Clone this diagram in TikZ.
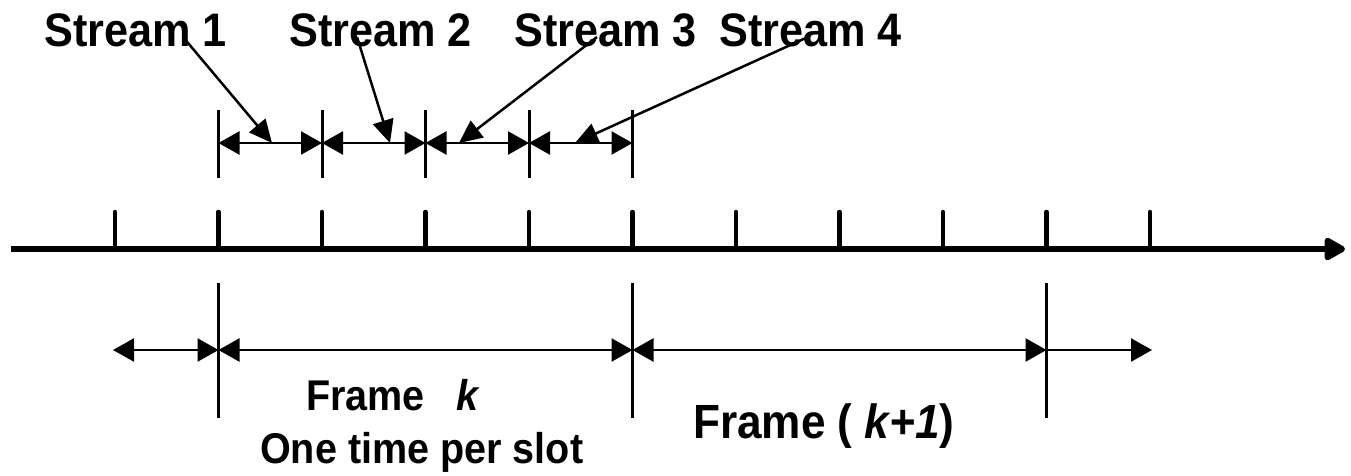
\documentclass[tikz,border=0pt]{standalone}
\usepackage{fontspec}
\setmainfont{Liberation Sans}[FakeStretch=0.92]
\usetikzlibrary{arrows.meta}
\begin{document}
\begin{tikzpicture}[x=1pt,y=-1pt,
  lbl/.style={inner sep=0pt, anchor=base west, font=\fontsize{47}{49}\selectfont\bfseries},
  axis/.style={line width=6pt, -{Triangle[length=24pt,width=25pt,round]}},
  tickmark/.style={line width=4.5pt, line cap=round},
  guide/.style={line width=3pt},
  dim/.style={line width=2.5pt, {Triangle[length=21pt,width=23pt]}-{Triangle[length=21pt,width=23pt]}},
  dimr/.style={line width=2.5pt, -{Triangle[length=21pt,width=23pt]}},
  ptr/.style={line width=2.5pt, -{Triangle[length=23pt,width=21pt]}}]
\useasboundingbox (0,0) rectangle (1351,476);
% main time axis
\coordinate (a0) at (11,249);
\coordinate (a1) at (1345,249);
\draw[axis] (a0) -- (a1);
\foreach \i in {0,...,10} {
  \coordinate (t\i) at ({115+103.5*\i},212);
  \draw[tickmark] (t\i) -- ++(0,37);
}
% upper slot markers
\foreach \i in {1,...,5} {
  \coordinate (u\i) at ({115+103.5*\i},143);
  \draw[guide] ({115+103.5*\i},110) -- ({115+103.5*\i},178);
}
\draw[dim] (u1) -- (u2);
\draw[dim] (u2) -- (u3);
\draw[dim] (u3) -- (u4);
\draw[dim] (u4) -- (u5);
% stream labels
\node[lbl] (s1) at (44,47) {Stream 1};
\node[lbl] (s2) at (289,47) {Stream 2};
\node[lbl] (s3) at (514,47) {Stream 3};
\node[lbl] (s4) at (719,47) {Stream 4};
\coordinate (p1) at (183,37);
\coordinate (p2) at (357,37);
\coordinate (p3) at (597,37);
\coordinate (p4) at (808,37);
\coordinate (q1) at (272,143);
\coordinate (q2) at (390,143);
\coordinate (q3) at (459,143);
\coordinate (q4) at (575,143);
\draw[ptr] (p1) -- (q1);
\draw[ptr] (p2) -- (q2);
\draw[ptr] (p3) -- (q3);
\draw[ptr] (p4) -- (q4);
% frame markers
\foreach \x in {218.5,632.5,1046.5} {
  \draw[guide] (\x,283) -- (\x,418);
}
\coordinate (l0) at (113,350);
\coordinate (l1) at (218.5,350);
\coordinate (l2) at (632.5,350);
\coordinate (l3) at (1046.5,350);
\coordinate (l4) at (1152,350);
\draw[dim] (l0) -- (l1);
\draw[dim] (l1) -- (l2);
\draw[dim] (l2) -- (l3);
\draw[dimr] (l3) -- (l4);
% frame labels
\node[lbl, font=\fontsize{43}{45}\selectfont\bfseries] (fk) at (306,410) {Frame\hspace{32pt}\textit{k}};
\node[lbl, font=\fontsize{43}{45}\selectfont\bfseries] (one) at (260,463) {One time per slot};
\node[lbl, font=\fontsize{48}{50}\selectfont\bfseries] (fk1) at (693,438) {Frame ( \textit{k+1})};
\end{tikzpicture}
\end{document}
